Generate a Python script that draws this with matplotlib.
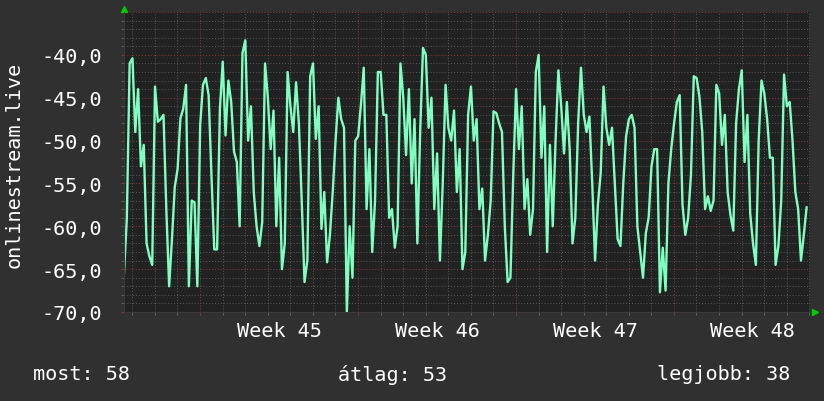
import numpy as np
import matplotlib
matplotlib.use("Agg")
import matplotlib.pyplot as plt
from matplotlib.ticker import FixedLocator, MultipleLocator, FuncFormatter, NullFormatter

# ping samples (plotted negative), one every 3 hours
ping = [
    -65.5, -59.1, -41.0, -40.4, -49.0, -44.0, -53.0, -50.5, -62.0, -63.5,
    -64.5, -43.7, -47.8, -47.5, -47.0, -58.0, -67.0, -61.5, -55.4, -53.3,
    -47.4, -46.3, -43.5, -67.0, -57.0, -57.2, -67.0, -48.2, -43.5, -42.7,
    -44.7, -54.0, -62.7, -62.7, -46.3, -40.8, -49.4, -43.0, -45.5, -51.3,
    -52.5,
    -60.0, -39.8, -38.3, -50.0, -46.0, -56.0, -60.0, -62.3, -59.5, -41.0,
    -45.0, -51.0, -46.5, -60.0, -52.0, -65.0, -62.0, -42.0, -46.0, -49.0,
    -43.2, -48.0, -57.0, -66.5, -64.0, -42.5, -41.0, -49.8, -46.0, -60.3,
    -56.0, -64.2, -61.0, -56.0, -50.0, -45.0, -47.5, -48.5, -70.0, -60.0,
    -66.0, -50.0, -49.5, -45.8, -41.5, -58.0, -51.0, -63.0, -57.0, -42.0,
    -42.0, -47.0, -47.0, -59.0, -58.0, -62.5, -60.0, -41.0, -45.0, -51.7,
    -44.0, -55.0, -47.5, -62.0, -49.0, -39.2, -40.0, -48.5, -45.0, -58.0,
    -51.5, -64.0, -55.0, -43.5, -48.5, -50.0, -46.5, -56.0, -51.0, -65.0,
    -63.0,
    -47.0, -43.7, -50.0, -47.5, -58.0, -55.6, -64.0, -61.0, -57.0, -46.6,
    -46.8, -48.0, -49.0, -60.0, -66.5, -66.0, -54.0, -44.0, -51.0, -46.0,
    -58.0, -54.5, -61.0, -58.0, -42.0, -40.0, -52.0, -46.0, -63.0, -50.5,
    -60.0, -50.0, -41.8, -46.0, -51.5, -45.5, -51.0, -62.0, -59.0, -48.0,
    -41.5,
    -47.0, -49.0, -47.2, -55.0, -64.0, -57.5, -53.8, -43.7, -48.5, -50.5,
    -48.5, -55.0, -61.5, -62.3, -55.0, -49.5, -47.5, -47.0, -48.5, -60.0,
    -63.0, -66.0, -60.8, -59.0, -53.0, -51.0, -51.0, -67.7, -62.5, -67.5,
    -55.0, -51.0, -48.0, -45.5, -44.7, -57.5, -61.0, -59.0, -54.0, -42.5,
    -42.7,
    -44.9, -49.0, -58.0, -56.5, -58.2, -57.0, -43.5, -44.5, -50.5, -47.0,
    -56.0, -58.7, -60.5, -48.0, -44.0, -41.8, -52.5, -47.0, -58.5, -62.0,
    -64.5, -50.0, -43.0, -44.5, -47.5, -52.0, -52.0, -64.5, -62.3, -57.0,
    -42.3, -46.0, -45.5, -50.0, -56.0, -58.0, -64.0, -61.0, -57.8,
]
step_days = 0.125
span_days = 30.4
first_week_start = 3.37
week_labels = ["Week 45", "Week 46", "Week 47", "Week 48"]
y_min, y_max = -70, -35
ylabel = "onlinestream.live"
legend_texts = ["most: 58", "átlag: 53", "legjobb: 38"]

t = np.arange(len(ping)) * step_days
week_lines = [first_week_start + 7 * i for i in range(len(week_labels))]
week_centers = [w + 3.5 for w in week_lines]
day_lines = np.arange(first_week_start % 1, span_days, 1.0)

plt.rcParams['font.family'] = ['DejaVu Sans Mono']

fig = plt.figure(figsize=(8.24, 4.02), dpi=100, facecolor='#303030')
ax = fig.add_axes([124 / 824, 89 / 402, 686 / 824, 300 / 402])
ax.set_facecolor('#222222')

ax.set_xlim(0, span_days)
ax.set_ylim(y_min, y_max)

ax.xaxis.set_major_locator(FixedLocator(week_lines))
ax.xaxis.set_minor_locator(FixedLocator(day_lines))
ax.xaxis.set_major_formatter(NullFormatter())
ax.yaxis.set_major_locator(MultipleLocator(5))
ax.yaxis.set_minor_locator(MultipleLocator(1))
ax.yaxis.set_major_formatter(FuncFormatter(
    lambda v, p: ("%.1f" % v).replace('.', ',') if v <= -40 else ""))

ax.grid(which='minor', color='#5a5a5a', linestyle=(0, (1, 2)), linewidth=0.7)
ax.grid(which='major', color='#8a3a3a', linestyle=(0, (1, 2)), linewidth=0.7)
ax.set_axisbelow(True)

ax.tick_params(which='both', direction='out', length=2, width=0.7, color='#606060')
ax.tick_params(which='major', color='#8a3a3a')
ax.tick_params(axis='y', which='major', labelsize=14.5, labelcolor='white', pad=14)
for s in ax.spines.values():
    s.set_visible(False)
ax.spines['left'].set_visible(True)
ax.spines['left'].set_color('#3a3a3a')
ax.spines['bottom'].set_visible(True)
ax.spines['bottom'].set_color('#3a3a3a')

ax.plot(t, ping, color='#80ffc0', linewidth=1.7)

for x, lab in zip(week_centers, week_labels):
    ax.text(x, -0.063, lab, transform=ax.get_xaxis_transform(), ha='center', va='center',
            color='white', fontsize=14.5)

fig.text(14 / 824, 1 - 165 / 402, ylabel, rotation=90, ha='center', va='center',
         color='white', fontsize=14.5)

# rrdtool style axis arrows
ax.plot([0], [1.01], marker='^', color='#00cc00', markersize=4, transform=ax.transAxes, clip_on=False)
ax.plot([1.007], [0], marker='>', color='#00cc00', markersize=4, transform=ax.transAxes, clip_on=False)

fig.text(33 / 824, 27 / 402, legend_texts[0], ha='left', va='center', color='white', fontsize=14.5)
fig.text(393 / 824, 27 / 402, legend_texts[1], ha='center', va='center', color='white', fontsize=14.5)
fig.text(790 / 824, 27 / 402, legend_texts[2], ha='right', va='center', color='white', fontsize=14.5)

fig.savefig("out.png", dpi=100, facecolor=fig.get_facecolor())
